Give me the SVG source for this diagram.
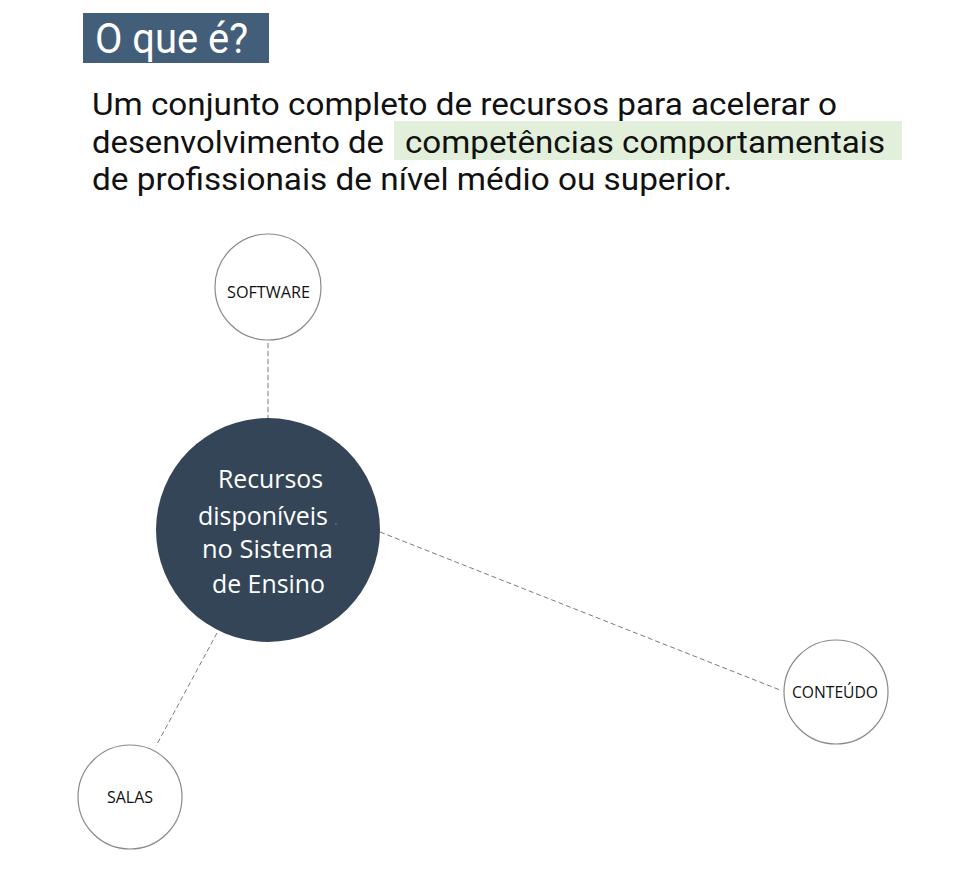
<svg xmlns="http://www.w3.org/2000/svg" width="963" height="892" viewBox="0 0 963 892">
<style>
.para{font-family:Roboto,"Liberation Sans",sans-serif;font-size:32px;fill:#111}
.node{fill:#fff;stroke:#8a8a8a;stroke-width:1.2}
.lbl{font-family:"Open Sans","Noto Sans",sans-serif;font-size:16.5px;fill:#111;text-anchor:middle}
.ctr{font-family:"Open Sans","Noto Sans",sans-serif;font-size:25.5px;fill:#fff;text-anchor:middle}
.conn{stroke:#7a7a7a;stroke-width:1;stroke-dasharray:5 3;fill:none}
</style>
<rect width="963" height="892" fill="#fff"/>
<g id="header">
<rect x="83" y="13" width="186" height="50" fill="#435E78"/>
<text x="95" y="53" font-family="Roboto,'Liberation Sans',sans-serif" font-size="42" fill="#fff" textLength="153" lengthAdjust="spacingAndGlyphs">O que é?</text>
<rect x="394" y="121" width="508" height="39" fill="#E2EFDA"/>
<text class="para" x="92" y="115" textLength="745" lengthAdjust="spacingAndGlyphs">Um conjunto completo de recursos para acelerar o</text>
<text class="para" x="92" y="153" textLength="292" lengthAdjust="spacingAndGlyphs">desenvolvimento de</text>
<text class="para" x="405" y="153" textLength="480" lengthAdjust="spacingAndGlyphs">competências comportamentais</text>
<text class="para" x="92" y="190" textLength="640" lengthAdjust="spacingAndGlyphs">de profissionais de nível médio ou superior.</text>
</g>
<g id="connectors">
<line class="conn" x1="268" y1="343" x2="268" y2="418"/>
<line class="conn" x1="380" y1="532" x2="780" y2="690"/>
<line class="conn" x1="217" y1="633" x2="156" y2="746"/>
</g>
<g id="center">
<circle cx="268" cy="530" r="112" fill="#334556"/>
<text class="ctr" x="270.5" y="488" textLength="105" lengthAdjust="spacingAndGlyphs">Recursos</text>
<text class="ctr" x="263" y="525" textLength="130" lengthAdjust="spacingAndGlyphs">disponíveis</text>
<text x="334" y="525" font-family="'Open Sans',sans-serif" font-size="14" fill="#5a7390">.</text>
<text class="ctr" x="267.5" y="558" textLength="131" lengthAdjust="spacingAndGlyphs">no Sistema</text>
<text class="ctr" x="268.5" y="593" textLength="113" lengthAdjust="spacingAndGlyphs">de Ensino</text>
</g>
<g id="software">
<circle class="node" cx="268" cy="287" r="53"/>
<text class="lbl" x="268.5" y="298" textLength="83" lengthAdjust="spacingAndGlyphs">SOFTWARE</text>
</g>
<g id="conteudo">
<circle class="node" cx="836" cy="692" r="52"/>
<text class="lbl" x="835" y="698" textLength="86" lengthAdjust="spacingAndGlyphs">CONTEÚDO</text>
</g>
<g id="salas">
<circle class="node" cx="130" cy="797" r="52"/>
<text class="lbl" x="130" y="803" textLength="46" lengthAdjust="spacingAndGlyphs">SALAS</text>
</g>
</svg>
